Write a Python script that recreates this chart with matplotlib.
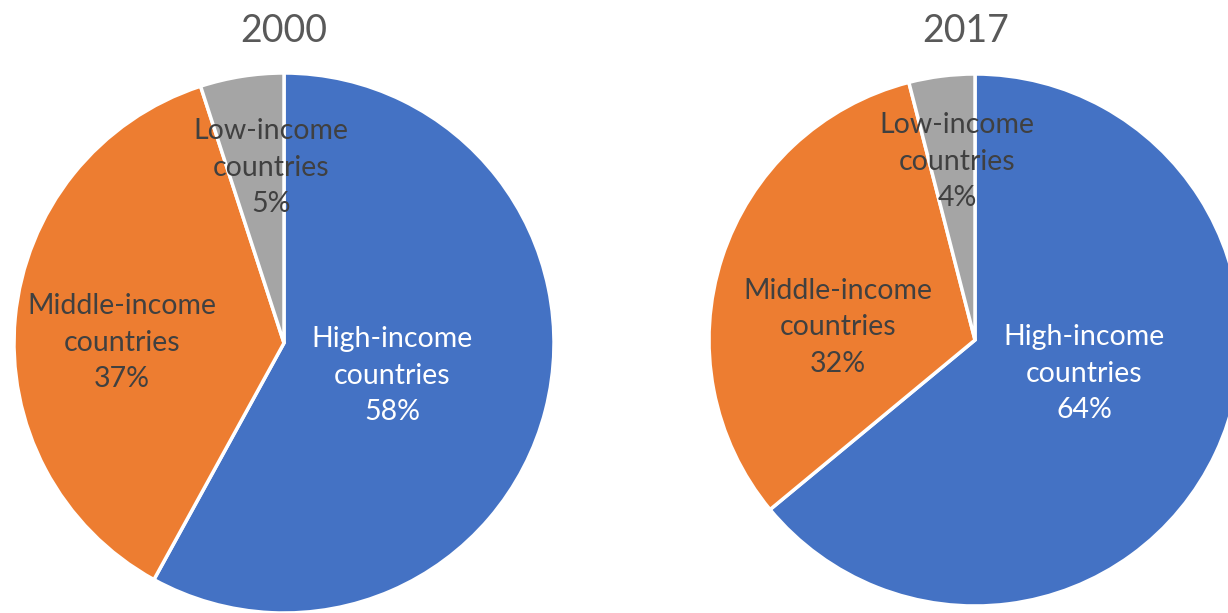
import numpy as np
import matplotlib
matplotlib.use("Agg")
import matplotlib.pyplot as plt

plt.rcParams['font.family'] = ['Lato', 'DejaVu Sans']

categories = ["High-income\ncountries", "Middle-income\ncountries", "Low-income\ncountries"]
years = ["2000", "2017"]
shares_2000 = [58, 37, 5]
shares_2017 = [64, 32, 4]

colors = ["#4472C4", "#ED7D31", "#A5A5A5"]
text_colors = ["white", "#404040", "#404040"]
# label placement: distance (fraction of radius) and turn off the wedge bisector (deg, clockwise)
label_dist_2000 = [0.418, 0.60, 0.65]
label_turn_2000 = [2.6, -5.4, 4.8]
label_dist_2017 = [0.43, 0.517, 0.673]
label_turn_2017 = [-8.0, -12.6, 1.4]

fig = plt.figure(figsize=(12.28, 6.13), dpi=100)
W, H = 1228, 613


def pie_axes(cx, cy, r):
    # square axes holding a unit pie centred at pixel (cx, cy) with radius r
    return fig.add_axes([(cx - r) / W, (H - cy - r) / H, 2 * r / W, 2 * r / H])


def draw_pie(ax, values, dists, turns, title, title_xy):
    wedges, _ = ax.pie(values, colors=colors, startangle=90, counterclock=False,
                       radius=1.0,
                       wedgeprops=dict(edgecolor="white", linewidth=2.5))
    for w, v, lab, d, t, tc in zip(wedges, values, categories, dists, turns, text_colors):
        ang = np.deg2rad((w.theta1 + w.theta2) / 2 - t)
        ax.text(d * np.cos(ang), d * np.sin(ang), f"{lab}\n{v}%",
                ha="center", va="center", fontsize=20.5, color=tc,
                linespacing=1.5)
    ax.set_xlim(-1, 1)
    ax.set_ylim(-1, 1)
    ax.set_aspect("equal")
    ax.axis("off")
    ax.text(*title_xy, title, ha="center", va="center", fontsize=27,
            color="#595959", clip_on=False)


ax1 = pie_axes(284, 343, 270)
draw_pie(ax1, shares_2000, label_dist_2000, label_turn_2000, years[0], (0, 1.155))

ax2 = pie_axes(975, 340, 266)
draw_pie(ax2, shares_2017, label_dist_2017, label_turn_2017, years[1], (-0.034, 1.16))

fig.savefig("out.png", dpi=100, facecolor="white")
